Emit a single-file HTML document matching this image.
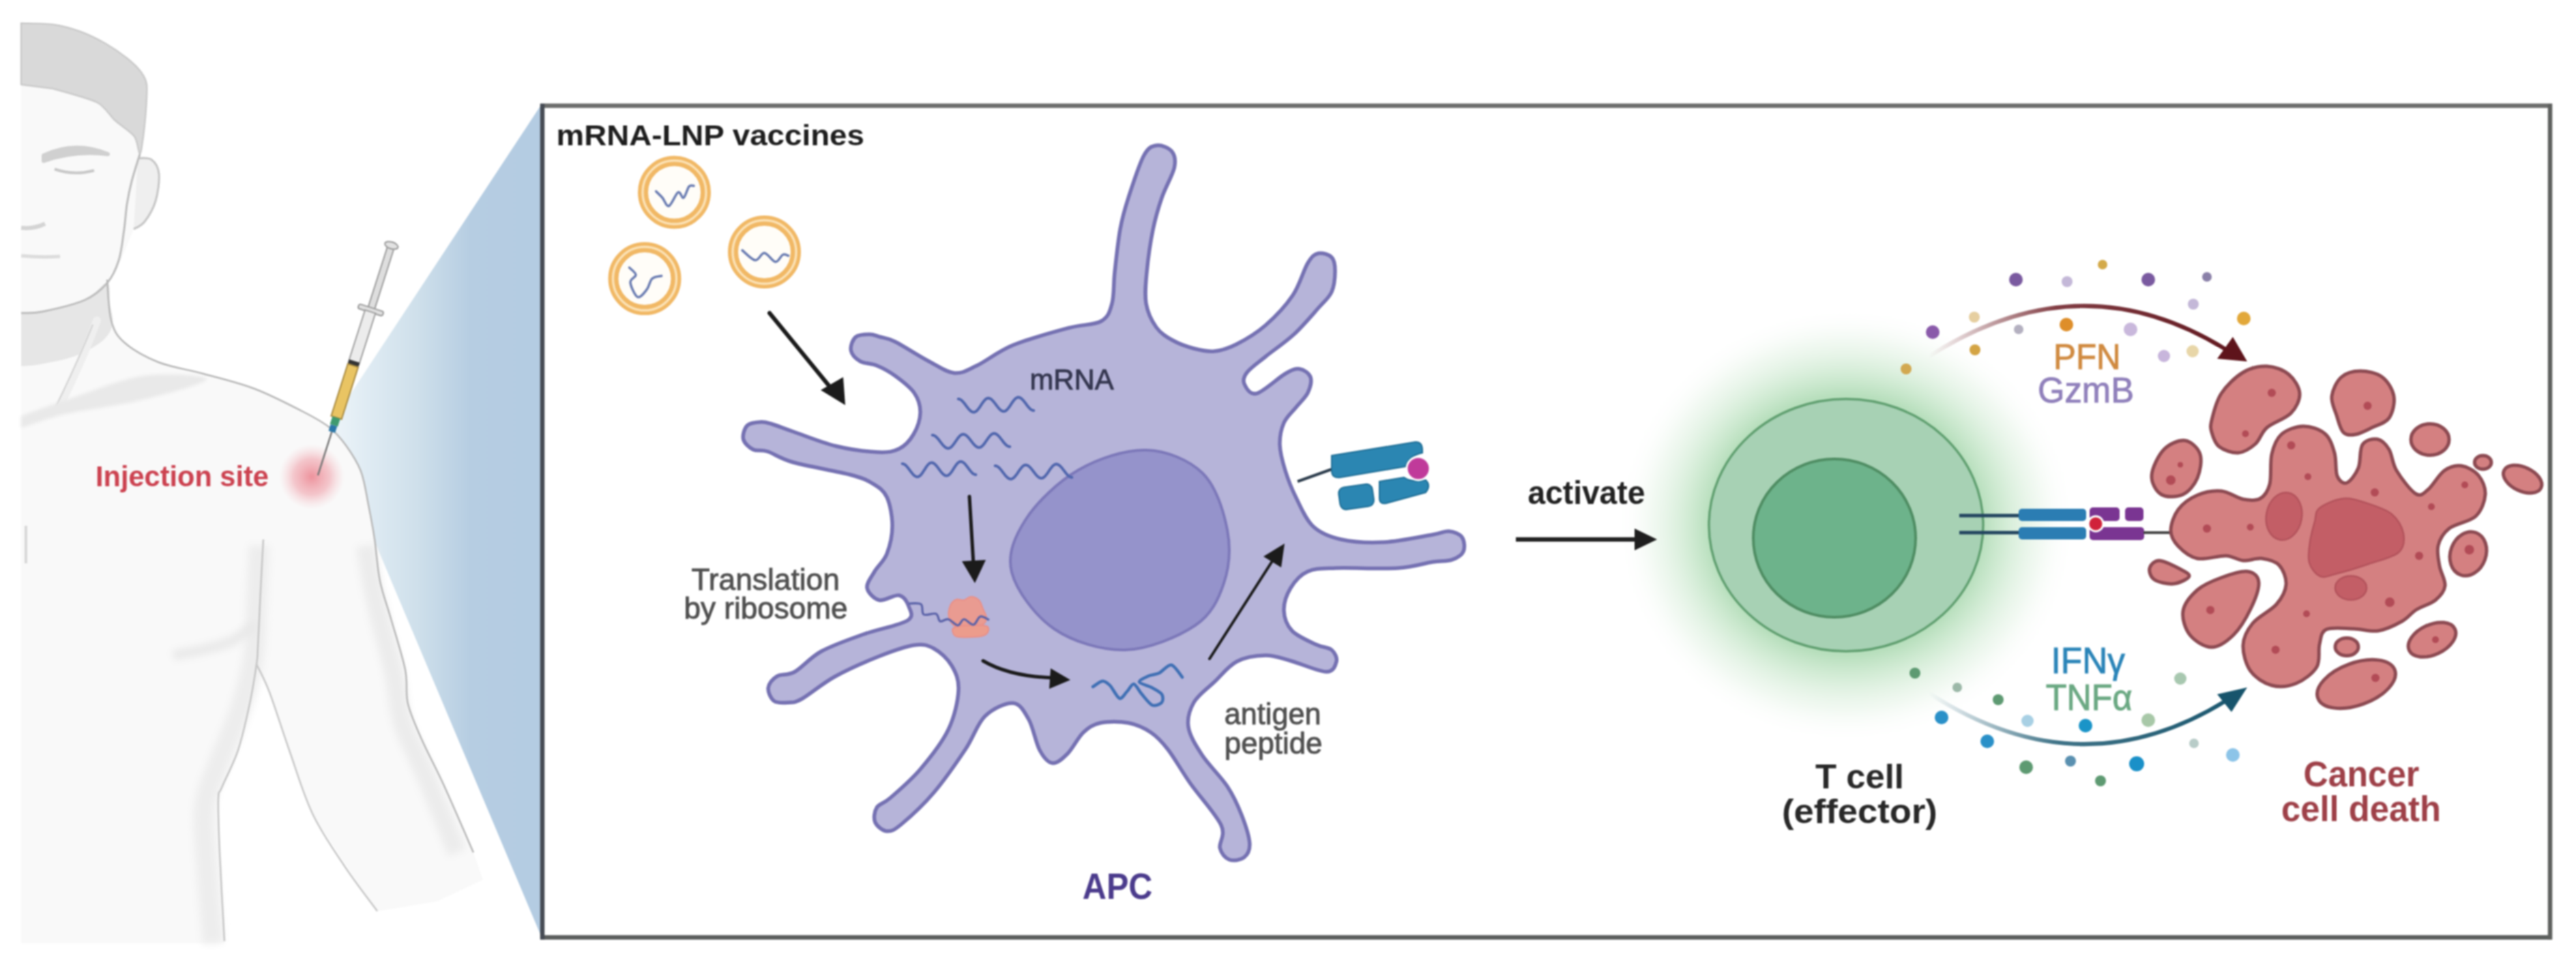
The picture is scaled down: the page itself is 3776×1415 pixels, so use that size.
<!DOCTYPE html>
<html><head><meta charset="utf-8"><style>
html,body{margin:0;padding:0;background:#ffffff;overflow:hidden;}
svg{display:block;filter:blur(1.3px);} text{font-family:"Liberation Sans",sans-serif;}
</style></head><body>
<svg width="3776" height="1415" viewBox="0 0 3776 1415">
<rect width="3776" height="1415" fill="#ffffff"/>
<defs>
<linearGradient id="wedge" x1="482" y1="0" x2="795" y2="0" gradientUnits="userSpaceOnUse">
 <stop offset="0" stop-color="#eef5f9"/>
 <stop offset="0.185" stop-color="#dfebf3"/>
 <stop offset="0.409" stop-color="#cfe0eb"/>
 <stop offset="0.665" stop-color="#b6cde2"/>
 <stop offset="1" stop-color="#b4cce2"/>
</linearGradient>
<radialGradient id="redglow" cx="0.5" cy="0.5" r="0.5">
 <stop offset="0" stop-color="#ec8792" stop-opacity="0.9"/>
 <stop offset="0.55" stop-color="#f0a3ac" stop-opacity="0.6"/>
 <stop offset="1" stop-color="#f6c8cd" stop-opacity="0"/>
</radialGradient>
<radialGradient id="greenglow" cx="0.5" cy="0.5" r="0.5">
 <stop offset="0.6" stop-color="#b8dfbd" stop-opacity="1"/>
 <stop offset="0.7" stop-color="#cce9cf" stop-opacity="0.85"/>
 <stop offset="0.85" stop-color="#e4f3e5" stop-opacity="0.5"/>
 <stop offset="1" stop-color="#ffffff" stop-opacity="0"/>
</radialGradient>
<linearGradient id="pfnarc" x1="2827" y1="0" x2="3294" y2="0" gradientUnits="userSpaceOnUse">
 <stop offset="0" stop-color="#6b1a22" stop-opacity="0"/>
 <stop offset="0.4" stop-color="#6b1a22" stop-opacity="0.85"/>
 <stop offset="1" stop-color="#5e141b"/>
</linearGradient>
<linearGradient id="ifnarc" x1="2827" y1="0" x2="3294" y2="0" gradientUnits="userSpaceOnUse">
 <stop offset="0" stop-color="#1d5a72" stop-opacity="0"/>
 <stop offset="0.4" stop-color="#1d5a72" stop-opacity="0.85"/>
 <stop offset="1" stop-color="#17546c"/>
</linearGradient>
</defs>
<path d="M482.0,626.0 L795.0,151.0 L795.0,1377.0 L480.0,630.0Z" fill="url(#wedge)"/>
<filter id="blur6" filterUnits="userSpaceOnUse" x="0" y="0" width="3776" height="1415"><feGaussianBlur stdDeviation="6"/></filter>
<filter id="blur3" filterUnits="userSpaceOnUse" x="0" y="0" width="3776" height="1415"><feGaussianBlur stdDeviation="2.5"/></filter>
<path d="M31.0,34.0 L78.0,36.0 L117.0,46.0 L155.0,64.0 L187.0,86.0 L207.0,106.0 L215.0,124.0 L214.0,160.0 L210.0,200.0 L204.0,228.0 L222.0,234.0 L233.0,255.0 L228.0,295.0 L212.0,325.0 L196.0,336.0 L178.0,380.0 L160.0,405.0 L163.0,470.0 L182.0,502.0 L232.0,531.0 L298.0,548.0 L373.0,570.0 L443.0,603.0 L482.0,626.0 L507.0,653.0 L529.0,691.0 L540.0,740.0 L549.0,790.0 L557.0,852.0 L573.0,907.0 L594.0,982.0 L598.0,1032.0 L619.0,1086.0 L650.0,1150.0 L694.0,1250.0 L708.0,1290.0 L640.0,1322.0 L553.0,1336.0 L495.0,1250.0 L458.0,1193.0 L424.0,1100.0 L395.0,1015.0 L376.0,974.0 L366.0,1032.0 L349.0,1100.0 L325.0,1155.0 L320.0,1172.0 L322.0,1250.0 L329.0,1383.0 L31.0,1383.0Z" fill="#f9f9f9"/>
<path d="M31.0,459.0 C36.2,458.7 46.5,460.2 62.0,457.0 C77.5,453.8 108.2,447.0 124.0,440.0 C139.8,433.0 150.8,414.2 157.0,415.0 C163.2,415.8 159.7,435.0 161.0,445.0 C162.3,455.0 166.8,465.8 165.0,475.0 C163.2,484.2 159.2,492.2 150.0,500.0 C140.8,507.8 125.0,516.3 110.0,522.0 C95.0,527.7 73.2,531.5 60.0,534.0 C46.8,536.5 35.8,536.5 31.0,537.0Z" fill="#e6e6e6"/>
<path d="M142,470 Q120,530 86,598" stroke="#efefef" stroke-width="12" fill="none" stroke-linecap="round"/>
<path d="M136,476 Q112,535 80,600" stroke="#d2d2d2" stroke-width="2" fill="none"/>
<path d="M31.0,610.0 C41.3,606.3 63.2,597.8 93.0,588.0 C122.8,578.2 175.0,556.3 210.0,551.0 C245.0,545.7 303.0,550.2 303.0,556.0 C303.0,561.8 245.0,577.3 210.0,586.0 C175.0,594.7 122.8,601.0 93.0,608.0 C63.2,615.0 41.3,624.7 31.0,628.0Z" fill="#e9e9e9" filter="url(#blur3)"/>
<path d="M380.0,800.0 C379.3,813.3 377.3,853.3 376.0,880.0 C374.7,906.7 376.0,933.3 372.0,960.0 C368.0,986.7 360.7,1013.3 352.0,1040.0 C343.3,1066.7 328.7,1096.7 320.0,1120.0 C311.3,1143.3 303.0,1156.7 300.0,1180.0 C297.0,1203.3 300.0,1226.2 302.0,1260.0 C304.0,1293.8 310.3,1362.5 312.0,1383.0" fill="none" stroke="#ededed" stroke-width="30" filter="url(#blur6)"/>
<path d="M536.0,800.0 C537.7,810.0 542.0,840.0 546.0,860.0 C550.0,880.0 554.7,898.3 560.0,920.0 C565.3,941.7 573.0,966.7 578.0,990.0 C583.0,1013.3 582.2,1035.0 590.0,1060.0 C597.8,1085.0 611.7,1108.3 625.0,1140.0 C638.3,1171.7 662.5,1231.7 670.0,1250.0" fill="none" stroke="#ececec" stroke-width="28" filter="url(#blur6)"/>
<path d="M254.0,961.0 C261.7,959.5 285.7,955.5 300.0,952.0 C314.3,948.5 327.7,946.0 340.0,940.0 C352.3,934.0 368.3,920.0 374.0,916.0" fill="none" stroke="#e8e8e8" stroke-width="14" filter="url(#blur6)"/>
<path d="M31,124 L31,34  C37.3,34.3 66.5,34.4 78.0,36.0 C89.5,37.6 106.7,42.3 117.0,46.0 C127.3,49.7 145.7,58.7 155.0,64.0 C164.3,69.3 180.1,80.4 187.0,86.0 C193.9,91.6 203.3,100.9 207.0,106.0 C210.7,111.1 214.1,116.8 215.0,124.0 C215.9,131.2 214.7,149.9 214.0,160.0 C213.3,170.1 211.2,191.2 210.0,200.0 C208.8,208.8 206.7,226.0 205.0,226.0 C203.3,226.0 201.9,206.7 197.0,200.0 C192.1,193.3 175.3,182.7 168.0,176.0 C160.7,169.3 154.0,156.1 142.0,150.0 C130.0,143.9 86.5,132.7 78.0,130.0 L31,124Z" fill="#d9d9d9" stroke="#cbcbcb" stroke-width="2.5" stroke-linejoin="round"/>
<path d="M202.0,232.0 C205.3,232.3 216.8,230.2 222.0,234.0 C227.2,237.8 232.0,244.8 233.0,255.0 C234.0,265.2 231.5,283.3 228.0,295.0 C224.5,306.7 217.3,318.2 212.0,325.0 C206.7,331.8 198.7,334.2 196.0,336.0" fill="#efefef" stroke="#c6c6c6" stroke-width="3"/>
<path d="M205.0,226.0 C203.0,232.7 196.2,253.7 193.0,266.0 C189.8,278.3 187.8,288.3 186.0,300.0 C184.2,311.7 184.0,322.3 182.0,336.0 C180.0,349.7 178.2,368.8 174.0,382.0 C169.8,395.2 165.3,405.3 157.0,415.0 C148.7,424.7 139.8,433.0 124.0,440.0 C108.2,447.0 77.5,453.8 62.0,457.0 C46.5,460.2 36.2,458.7 31.0,459.0" fill="none" stroke="#bdbdbd" stroke-width="3"/>
<path d="M157.0,410.0 C158.0,420.0 158.8,454.7 163.0,470.0 C167.2,485.3 170.5,491.8 182.0,502.0 C193.5,512.2 212.7,523.3 232.0,531.0 C251.3,538.7 274.5,541.5 298.0,548.0 C321.5,554.5 348.8,560.8 373.0,570.0 C397.2,579.2 424.8,593.7 443.0,603.0 C461.2,612.3 471.3,617.7 482.0,626.0 C492.7,634.3 499.2,642.2 507.0,653.0 C514.8,663.8 523.5,676.5 529.0,691.0 C534.5,705.5 536.7,723.5 540.0,740.0 C543.3,756.5 546.2,771.3 549.0,790.0 C551.8,808.7 553.0,832.5 557.0,852.0 C561.0,871.5 566.8,885.3 573.0,907.0 C579.2,928.7 589.8,961.2 594.0,982.0 C598.2,1002.8 593.8,1014.7 598.0,1032.0 C602.2,1049.3 610.3,1066.3 619.0,1086.0 C627.7,1105.7 637.5,1122.7 650.0,1150.0 C662.5,1177.3 686.7,1233.3 694.0,1250.0" fill="none" stroke="#b8b8b8" stroke-width="2.5"/>
<path d="M64,228 Q110,206 158,226 Q110,220 64,236Z" fill="#d0d0d0" stroke="#d0d0d0" stroke-width="6" stroke-linejoin="round"/>
<path d="M80,248 Q108,258 138,250" fill="none" stroke="#c8c8c8" stroke-width="4"/>
<path d="M31,334 Q50,336 66,328" fill="none" stroke="#d4d4d4" stroke-width="6"/>
<path d="M31,375 Q60,378 88,376" fill="none" stroke="#dcdcdc" stroke-width="5"/>
<path d="M386.0,791.0 C385.3,803.5 383.3,839.7 382.0,866.0 C380.7,892.3 379.0,931.0 378.0,949.0 C377.0,967.0 378.0,960.2 376.0,974.0 C374.0,987.8 370.5,1011.0 366.0,1032.0 C361.5,1053.0 355.8,1079.5 349.0,1100.0 C342.2,1120.5 329.8,1143.0 325.0,1155.0 C320.2,1167.0 320.5,1156.2 320.0,1172.0 C319.5,1187.8 320.5,1215.3 322.0,1250.0 C323.5,1284.7 327.8,1358.3 329.0,1380.0" fill="none" stroke="#c6c6c6" stroke-width="2.5"/>
<path d="M376.0,974.0 C379.2,980.8 387.0,994.0 395.0,1015.0 C403.0,1036.0 413.5,1070.3 424.0,1100.0 C434.5,1129.7 444.5,1164.7 458.0,1193.0 C471.5,1221.3 489.2,1246.2 505.0,1270.0 C520.8,1293.8 545.0,1325.0 553.0,1336.0" fill="none" stroke="#c8c8c8" stroke-width="2.5"/>
<path d="M38,771 L38,826" stroke="#d8d8d8" stroke-width="4"/>
<circle cx="457" cy="699" r="48" fill="url(#redglow)"/>
<g transform="translate(575,356) rotate(17.73)">
 <line x1="0" y1="290" x2="0" y2="358" stroke="#777" stroke-width="2.5"/>
 <rect x="-5" y="6" width="10" height="96" fill="#dedede" stroke="#9c9c9c" stroke-width="2"/>
 <ellipse cx="0" cy="4" rx="10" ry="5" fill="#e2e2e2" stroke="#9c9c9c" stroke-width="2"/>
 <rect x="-19" y="100" width="38" height="7" rx="3" fill="#e0e0e0" stroke="#9c9c9c" stroke-width="2"/>
 <rect x="-8" y="106" width="16" height="80" fill="#ececec" stroke="#a0a0a0" stroke-width="2"/>
 <rect x="-8" y="182" width="16" height="7" fill="#333"/>
 <rect x="-8" y="189" width="16" height="80" fill="#e9c463" stroke="#a88a40" stroke-width="2"/>
 <rect x="-6" y="269" width="12" height="12" fill="#3f9a6f"/>
 <rect x="-5" y="281" width="10" height="10" fill="#2b77a8"/>
</g>
<rect x="795" y="155" width="2943" height="1219.5" fill="#ffffff"/>
<path d="M792,155 L3741,155" stroke="#6c6d6c" stroke-width="6.5"/>
<path d="M792,1374.5 L3741,1374.5" stroke="#5a5d5c" stroke-width="6.5"/>
<path d="M795,152 L795,1377.5" stroke="#464b54" stroke-width="6.5"/>
<path d="M3738,152 L3738,1377.5" stroke="#5f615f" stroke-width="6.5"/>
<circle cx="988.5" cy="282" r="46" fill="#fffdf8" stroke="#f1b865" stroke-width="15"/><circle cx="988.5" cy="282" r="46.5" fill="none" stroke="#fbe2b6" stroke-width="3.5"/><path d="M961.6,280.6 C963.2,282.2 967.9,286.4 971.0,290.0 C974.1,293.6 976.7,303.3 980.5,302.0 C984.3,300.7 990.4,284.0 994.0,282.0 C997.6,280.0 999.3,291.4 1002.0,290.0 C1004.7,288.6 1007.5,276.4 1010.0,273.5 C1012.5,270.6 1015.8,272.7 1017.0,272.5" fill="none" stroke="#6b7db2" stroke-width="3.5" stroke-linecap="round" stroke-linejoin="round"/>
<circle cx="945" cy="408.6" r="46" fill="#fffdf8" stroke="#f1b865" stroke-width="15"/><circle cx="945" cy="408.6" r="46.5" fill="none" stroke="#fbe2b6" stroke-width="3.5"/><path d="M922.5,392.4 C924.1,394.2 931.8,399.4 932.0,403.0 C932.2,406.6 923.6,408.6 924.0,414.0 C924.4,419.4 930.6,433.7 934.6,435.5 C938.6,437.3 944.4,429.2 948.0,424.7 C951.6,420.2 952.4,412.0 956.0,408.6 C959.6,405.2 967.4,405.2 969.7,404.5" fill="none" stroke="#6b7db2" stroke-width="3.5" stroke-linecap="round" stroke-linejoin="round"/>
<circle cx="1120.5" cy="369.5" r="46" fill="#fffdf8" stroke="#f1b865" stroke-width="15"/><circle cx="1120.5" cy="369.5" r="46.5" fill="none" stroke="#fbe2b6" stroke-width="3.5"/><path d="M1088.0,367.0 C1091.2,369.4 1101.6,380.9 1107.0,381.6 C1112.4,382.3 1115.5,370.6 1120.5,371.0 C1125.5,371.4 1132.2,383.6 1136.7,384.0 C1141.2,384.4 1144.3,375.0 1147.5,373.5 C1150.7,372.0 1154.2,374.8 1155.6,375.0" fill="none" stroke="#6b7db2" stroke-width="3.5" stroke-linecap="round" stroke-linejoin="round"/>
<path d="M1128,459 L1222,574" stroke="#1b1b1b" stroke-width="6" stroke-linecap="round"/>
<path d="M1239,594 L1203,572 L1236,553Z" fill="#1b1b1b"/>
<path d="M1630.0,445.0 C1633.3,433.0 1632.0,417.2 1634.0,399.0 C1636.0,380.8 1638.7,354.2 1642.0,336.0 C1645.3,317.8 1648.2,307.9 1654.0,290.0 C1659.8,272.1 1669.7,241.1 1676.6,228.3 C1683.5,215.5 1688.5,214.3 1695.3,213.3 C1702.2,212.2 1713.4,216.6 1717.7,222.0 C1722.0,227.4 1723.8,234.4 1721.4,245.7 C1718.9,257.0 1708.2,274.8 1703.0,290.0 C1697.8,305.2 1693.7,318.8 1690.0,337.0 C1686.3,355.2 1682.7,381.0 1681.0,399.0 C1679.3,417.0 1677.7,431.5 1680.0,445.0 C1682.3,458.5 1688.5,471.0 1695.0,480.0 C1701.5,489.0 1709.8,493.8 1719.0,499.0 C1728.2,504.2 1739.8,508.3 1750.0,511.0 C1760.2,513.7 1769.7,516.0 1780.0,515.0 C1790.3,514.0 1799.5,511.3 1812.0,505.0 C1824.5,498.7 1841.2,489.0 1855.0,477.0 C1868.8,465.0 1884.7,448.2 1895.0,433.0 C1905.3,417.8 1910.7,395.9 1917.0,385.7 C1923.2,375.4 1926.5,372.8 1932.5,371.5 C1938.4,370.2 1948.4,373.3 1952.5,377.8 C1956.6,382.3 1957.1,390.0 1957.0,398.3 C1956.9,406.7 1955.8,419.4 1952.0,428.0 C1948.2,436.6 1943.2,439.7 1934.0,450.0 C1924.8,460.3 1910.2,477.8 1897.0,490.0 C1883.8,502.2 1866.5,513.7 1855.0,523.0 C1843.5,532.3 1833.2,539.3 1828.0,546.0 C1822.8,552.7 1821.7,557.8 1824.0,563.0 C1826.3,568.2 1832.0,579.5 1842.0,577.0 C1852.0,574.5 1873.5,554.0 1884.0,548.0 C1894.5,542.0 1898.8,540.2 1905.0,541.0 C1911.2,541.8 1919.0,547.2 1921.0,553.0 C1923.0,558.8 1920.5,568.7 1917.0,576.0 C1913.5,583.3 1905.8,589.7 1900.0,597.0 C1894.2,604.3 1886.0,610.8 1882.0,620.0 C1878.0,629.2 1875.7,640.3 1876.0,652.0 C1876.3,663.7 1880.0,677.0 1884.0,690.0 C1888.0,703.0 1893.2,716.3 1900.0,730.0 C1906.8,743.7 1914.0,761.8 1925.0,772.0 C1936.0,782.2 1948.7,787.2 1966.0,791.0 C1983.3,794.8 2006.7,796.2 2029.0,795.0 C2051.3,793.8 2084.2,786.6 2100.0,784.0 C2115.8,781.4 2116.7,778.5 2123.9,779.1 C2131.1,779.7 2139.5,782.8 2143.0,787.7 C2146.6,792.6 2147.6,803.1 2145.1,808.6 C2142.7,814.1 2135.6,818.3 2128.1,820.9 C2120.6,823.5 2113.2,822.0 2100.0,824.0 C2086.8,826.0 2072.7,831.5 2049.0,833.0 C2025.3,834.5 1980.0,832.2 1958.0,833.0 C1936.0,833.8 1928.0,833.2 1917.0,838.0 C1906.0,842.8 1897.8,852.5 1892.0,862.0 C1886.2,871.5 1881.7,884.5 1882.0,895.0 C1882.3,905.5 1886.2,916.7 1894.0,925.0 C1901.8,933.3 1919.3,940.3 1929.0,945.0 C1938.7,949.7 1947.0,948.8 1952.0,953.0 C1957.0,957.2 1960.3,964.7 1959.0,970.0 C1957.7,975.3 1955.2,985.2 1944.0,985.0 C1932.8,984.8 1906.8,973.0 1892.0,969.0 C1877.2,965.0 1868.2,960.8 1855.0,961.0 C1841.8,961.2 1825.5,963.5 1813.0,970.0 C1800.5,976.5 1790.5,990.0 1780.0,1000.0 C1769.5,1010.0 1756.3,1019.0 1750.0,1030.0 C1743.7,1041.0 1740.0,1053.2 1742.0,1066.0 C1744.0,1078.8 1752.5,1092.5 1762.0,1107.0 C1771.5,1121.5 1789.3,1138.3 1799.0,1153.0 C1808.7,1167.7 1814.5,1181.0 1820.0,1195.0 C1825.5,1209.0 1831.1,1226.4 1831.8,1236.7 C1832.4,1247.1 1828.7,1253.3 1823.7,1257.2 C1818.7,1261.2 1807.9,1262.8 1801.9,1260.5 C1796.0,1258.1 1790.2,1251.7 1788.2,1243.3 C1786.3,1234.9 1797.2,1225.7 1790.0,1210.0 C1782.8,1194.3 1758.0,1167.5 1745.0,1149.0 C1732.0,1130.5 1721.7,1111.5 1712.0,1099.0 C1702.3,1086.5 1696.7,1080.5 1687.0,1074.0 C1677.3,1067.5 1666.3,1062.3 1654.0,1060.0 C1641.7,1057.7 1624.0,1057.7 1613.0,1060.0 C1602.0,1062.3 1596.0,1066.5 1588.0,1074.0 C1580.0,1081.5 1572.5,1097.5 1565.0,1105.0 C1557.5,1112.5 1549.8,1119.8 1543.0,1119.0 C1536.2,1118.2 1529.8,1110.7 1524.0,1100.0 C1518.2,1089.3 1514.5,1066.5 1508.0,1055.0 C1501.5,1043.5 1495.7,1031.8 1485.0,1031.0 C1474.3,1030.2 1455.7,1038.7 1444.0,1050.0 C1432.3,1061.3 1427.5,1080.3 1415.0,1099.0 C1402.5,1117.7 1384.5,1143.8 1369.0,1162.0 C1353.5,1180.2 1333.4,1198.5 1322.0,1208.0 C1310.6,1217.5 1306.9,1219.2 1300.4,1218.8 C1293.8,1218.4 1285.3,1211.5 1282.8,1205.6 C1280.3,1199.8 1281.7,1189.7 1285.4,1183.8 C1289.1,1177.9 1294.4,1179.3 1305.0,1170.0 C1315.6,1160.7 1334.8,1144.7 1349.0,1128.0 C1363.2,1111.3 1380.7,1089.3 1390.0,1070.0 C1399.3,1050.7 1404.2,1027.7 1405.0,1012.0 C1405.8,996.3 1401.0,986.2 1395.0,976.0 C1389.0,965.8 1378.2,956.0 1369.0,951.0 C1359.8,946.0 1353.7,944.0 1340.0,946.0 C1326.3,948.0 1306.3,955.3 1287.0,963.0 C1267.7,970.7 1242.7,981.7 1224.0,992.0 C1205.3,1002.3 1186.4,1018.6 1175.0,1025.0 C1163.6,1031.4 1162.2,1029.7 1155.4,1030.2 C1148.7,1030.7 1139.5,1031.5 1134.6,1027.9 C1129.7,1024.3 1125.5,1014.7 1126.1,1008.7 C1126.8,1002.7 1132.1,995.7 1138.6,991.8 C1145.0,987.8 1154.1,991.1 1165.0,985.0 C1175.9,978.9 1187.2,964.2 1204.0,955.0 C1220.8,945.8 1245.0,937.5 1266.0,930.0 C1287.0,922.5 1319.0,916.8 1330.0,910.0 C1341.0,903.2 1334.0,895.2 1332.0,889.0 C1330.0,882.8 1325.2,874.5 1318.0,873.0 C1310.8,871.5 1296.8,881.8 1289.0,880.0 C1281.2,878.2 1272.2,869.0 1271.0,862.0 C1269.8,855.0 1277.2,846.3 1282.0,838.0 C1286.8,829.7 1295.7,823.2 1300.0,812.0 C1304.3,800.8 1308.0,784.8 1308.0,771.0 C1308.0,757.2 1304.8,739.3 1300.0,729.0 C1295.2,718.7 1288.0,714.5 1279.0,709.0 C1270.0,703.5 1265.3,701.2 1246.0,696.0 C1226.7,690.8 1183.2,683.7 1163.0,678.0 C1142.8,672.3 1134.8,665.1 1125.0,662.0 C1115.2,658.9 1110.0,662.2 1104.1,659.2 C1098.2,656.2 1091.0,649.9 1089.6,644.0 C1088.2,638.1 1091.1,628.0 1095.5,623.8 C1099.9,619.6 1109.8,619.1 1115.9,618.8 C1122.0,618.5 1124.1,619.6 1132.0,622.0 C1139.9,624.4 1147.5,627.7 1163.0,633.0 C1178.5,638.3 1204.3,649.0 1225.0,654.0 C1245.7,659.0 1271.5,662.3 1287.0,663.0 C1302.5,663.7 1309.3,662.3 1318.0,658.0 C1326.7,653.7 1333.8,645.8 1339.0,637.0 C1344.2,628.2 1348.8,615.2 1349.0,605.0 C1349.2,594.8 1346.2,585.0 1340.0,576.0 C1333.8,567.0 1321.2,557.7 1312.0,551.0 C1302.8,544.3 1293.5,539.5 1285.0,536.0 C1276.5,532.5 1267.3,533.5 1261.0,529.8 C1254.8,526.1 1248.5,519.8 1247.4,513.9 C1246.2,507.9 1249.7,498.0 1254.3,494.1 C1258.9,490.1 1269.0,490.2 1275.0,490.2 C1280.9,490.2 1283.8,492.2 1290.0,494.0 C1296.2,495.8 1300.0,495.0 1312.0,501.0 C1324.0,507.0 1347.5,522.3 1362.0,530.0 C1376.5,537.7 1387.3,546.0 1399.0,547.0 C1410.7,548.0 1417.7,542.8 1432.0,536.0 C1446.3,529.2 1462.7,515.2 1485.0,506.0 C1507.3,496.8 1544.5,486.8 1566.0,481.0 C1587.5,475.2 1603.3,477.0 1614.0,471.0 C1624.7,465.0 1626.7,457.0 1630.0,445.0Z" fill="#b6b4d9" stroke="#7571b2" stroke-width="5.5" stroke-linejoin="round"/>
<path d="M1680.0,660.0 C1710.3,660.8 1743.2,674.5 1763.0,694.0 C1782.8,713.5 1793.8,750.2 1799.0,777.0 C1804.2,803.8 1801.8,831.7 1794.0,855.0 C1786.2,878.3 1776.2,900.7 1752.0,917.0 C1727.8,933.3 1683.5,952.2 1649.0,953.0 C1614.5,953.8 1572.7,941.0 1545.0,922.0 C1517.3,903.0 1489.8,865.8 1483.0,839.0 C1476.2,812.2 1487.7,786.0 1504.0,761.0 C1520.3,736.0 1551.7,705.8 1581.0,689.0 C1610.3,672.2 1649.7,659.2 1680.0,660.0Z" fill="#9593cb" stroke="#7c78b9" stroke-width="4"/>
<path d="M1404.7,585.0 L1406.1,585.2 L1407.5,585.7 L1408.9,586.6 L1410.3,587.8 L1411.7,589.3 L1413.1,590.9 L1414.6,592.8 L1416.0,594.7 L1417.4,596.6 L1418.9,598.5 L1420.3,600.1 L1421.7,601.6 L1423.1,602.8 L1424.5,603.7 L1425.9,604.2 L1427.3,604.4 L1428.6,604.2 L1430.0,603.6 L1431.4,602.6 L1432.7,601.3 L1434.0,599.8 L1435.4,598.0 L1436.7,596.1 L1438.0,594.1 L1439.3,592.1 L1440.6,590.2 L1442.0,588.4 L1443.3,586.9 L1444.6,585.6 L1446.0,584.6 L1447.4,584.0 L1448.7,583.8 L1450.1,584.0 L1451.5,584.5 L1452.9,585.4 L1454.3,586.6 L1455.7,588.1 L1457.1,589.7 L1458.6,591.6 L1460.0,593.5 L1461.4,595.4 L1462.9,597.3 L1464.3,598.9 L1465.7,600.4 L1467.1,601.6 L1468.5,602.5 L1469.9,603.0 L1471.3,603.2 L1472.6,603.0 L1474.0,602.4 L1475.4,601.4 L1476.7,600.1 L1478.0,598.6 L1479.4,596.8 L1480.7,594.9 L1482.0,592.9 L1483.3,590.9 L1484.6,589.0 L1486.0,587.2 L1487.3,585.7 L1488.6,584.4 L1490.0,583.4 L1491.4,582.8 L1492.7,582.6 L1494.1,582.8 L1495.5,583.3 L1496.9,584.2 L1498.3,585.4 L1499.7,586.9 L1501.1,588.5 L1502.6,590.4 L1504.0,592.3 L1505.4,594.2 L1506.9,596.1 L1508.3,597.7 L1509.7,599.2 L1511.1,600.4 L1512.5,601.3 L1513.9,601.8 L1515.3,602.0" fill="none" stroke="#5066ad" stroke-width="4" stroke-linecap="round"/>
<path d="M1366.7,638.0 L1368.2,638.2 L1369.6,638.7 L1371.0,639.6 L1372.5,640.8 L1373.9,642.3 L1375.4,643.9 L1376.8,645.8 L1378.3,647.7 L1379.8,649.6 L1381.2,651.5 L1382.7,653.1 L1384.1,654.6 L1385.6,655.8 L1387.0,656.7 L1388.4,657.2 L1389.9,657.4 L1391.3,657.2 L1392.7,656.6 L1394.1,655.6 L1395.4,654.3 L1396.8,652.8 L1398.2,651.0 L1399.5,649.1 L1400.9,647.1 L1402.3,645.1 L1403.6,643.2 L1405.0,641.4 L1406.4,639.9 L1407.7,638.6 L1409.1,637.6 L1410.5,637.0 L1411.9,636.8 L1413.4,637.0 L1414.8,637.5 L1416.2,638.4 L1417.7,639.6 L1419.1,641.1 L1420.6,642.7 L1422.0,644.6 L1423.5,646.5 L1425.0,648.4 L1426.4,650.3 L1427.9,651.9 L1429.3,653.4 L1430.8,654.6 L1432.2,655.5 L1433.6,656.0 L1435.1,656.2 L1436.5,656.0 L1437.9,655.4 L1439.3,654.4 L1440.6,653.1 L1442.0,651.6 L1443.4,649.8 L1444.7,647.9 L1446.1,645.9 L1447.5,643.9 L1448.8,642.0 L1450.2,640.2 L1451.6,638.7 L1452.9,637.4 L1454.3,636.4 L1455.7,635.8 L1457.1,635.6 L1458.6,635.8 L1460.0,636.3 L1461.4,637.2 L1462.9,638.4 L1464.3,639.9 L1465.8,641.5 L1467.2,643.4 L1468.7,645.3 L1470.2,647.2 L1471.6,649.1 L1473.1,650.7 L1474.5,652.2 L1476.0,653.4 L1477.4,654.3 L1478.8,654.8 L1480.3,655.0" fill="none" stroke="#5066ad" stroke-width="4" stroke-linecap="round"/>
<path d="M1322.6,680.0 L1324.0,680.1 L1325.3,680.7 L1326.7,681.5 L1328.1,682.7 L1329.5,684.2 L1330.9,685.9 L1332.3,687.7 L1333.7,689.6 L1335.1,691.5 L1336.5,693.3 L1337.9,695.0 L1339.3,696.5 L1340.7,697.7 L1342.1,698.5 L1343.4,699.1 L1344.8,699.2 L1346.1,699.0 L1347.4,698.3 L1348.7,697.4 L1350.0,696.1 L1351.3,694.5 L1352.6,692.7 L1353.8,690.8 L1355.1,688.8 L1356.4,686.8 L1357.6,684.9 L1358.9,683.1 L1360.2,681.5 L1361.5,680.2 L1362.8,679.3 L1364.1,678.6 L1365.4,678.4 L1366.8,678.5 L1368.1,679.1 L1369.5,679.9 L1370.9,681.1 L1372.3,682.6 L1373.7,684.3 L1375.1,686.1 L1376.5,688.0 L1377.9,689.9 L1379.3,691.7 L1380.7,693.4 L1382.1,694.9 L1383.5,696.1 L1384.9,696.9 L1386.2,697.5 L1387.6,697.6 L1388.9,697.4 L1390.2,696.7 L1391.5,695.8 L1392.8,694.5 L1394.1,692.9 L1395.4,691.1 L1396.6,689.2 L1397.9,687.2 L1399.2,685.2 L1400.4,683.3 L1401.7,681.5 L1403.0,679.9 L1404.3,678.6 L1405.6,677.7 L1406.9,677.0 L1408.2,676.8 L1409.6,676.9 L1410.9,677.5 L1412.3,678.3 L1413.7,679.5 L1415.1,681.0 L1416.5,682.7 L1417.9,684.5 L1419.3,686.4 L1420.7,688.3 L1422.1,690.1 L1423.5,691.8 L1424.9,693.3 L1426.3,694.5 L1427.7,695.3 L1429.0,695.9 L1430.4,696.0" fill="none" stroke="#5066ad" stroke-width="4" stroke-linecap="round"/>
<path d="M1458.7,683.0 L1460.1,683.2 L1461.6,683.7 L1463.0,684.6 L1464.4,685.8 L1465.9,687.3 L1467.3,688.9 L1468.7,690.8 L1470.2,692.7 L1471.7,694.6 L1473.1,696.5 L1474.5,698.1 L1476.0,699.6 L1477.4,700.8 L1478.8,701.7 L1480.3,702.2 L1481.7,702.4 L1483.1,702.2 L1484.4,701.6 L1485.8,700.6 L1487.2,699.3 L1488.5,697.8 L1489.9,696.0 L1491.3,694.1 L1492.6,692.1 L1493.9,690.1 L1495.3,688.2 L1496.7,686.4 L1498.0,684.9 L1499.4,683.6 L1500.8,682.6 L1502.1,682.0 L1503.5,681.8 L1504.9,682.0 L1506.4,682.5 L1507.8,683.4 L1509.2,684.6 L1510.7,686.1 L1512.1,687.7 L1513.5,689.6 L1515.0,691.5 L1516.5,693.4 L1517.9,695.3 L1519.3,696.9 L1520.8,698.4 L1522.2,699.6 L1523.6,700.5 L1525.1,701.0 L1526.5,701.2 L1527.9,701.0 L1529.2,700.4 L1530.6,699.4 L1532.0,698.1 L1533.3,696.6 L1534.7,694.8 L1536.1,692.9 L1537.4,690.9 L1538.7,688.9 L1540.1,687.0 L1541.5,685.2 L1542.8,683.7 L1544.2,682.4 L1545.6,681.4 L1546.9,680.8 L1548.3,680.6 L1549.7,680.8 L1551.2,681.3 L1552.6,682.2 L1554.0,683.4 L1555.5,684.9 L1556.9,686.5 L1558.3,688.4 L1559.8,690.3 L1561.3,692.2 L1562.7,694.1 L1564.1,695.7 L1565.6,697.2 L1567.0,698.4 L1568.4,699.3 L1569.9,699.8 L1571.3,700.0" fill="none" stroke="#5066ad" stroke-width="4" stroke-linecap="round"/>
<path d="M1421,728 L1427,828" stroke="#1b1b1b" stroke-width="5" stroke-linecap="round"/>
<path d="M1429,855 L1410,823 L1445,821Z" fill="#1b1b1b"/>
<path d="M1441,969 Q1480,992 1545,994" stroke="#1b1b1b" stroke-width="5" fill="none" stroke-linecap="round"/>
<path d="M1569,997 L1538,1010 L1540,980Z" fill="#1b1b1b"/>
<path d="M1773,966 L1868,818" stroke="#1b1b1b" stroke-width="4" stroke-linecap="round"/>
<path d="M1883,797 L1852,816 L1878,832Z" fill="#1b1b1b"/>
<path d="M1391.0,905.0 C1389.8,900.0 1391.2,892.3 1393.0,888.0 C1394.8,883.7 1398.7,880.3 1402.0,879.0 C1405.3,877.7 1409.5,880.7 1413.0,880.0 C1416.5,879.3 1419.3,875.0 1423.0,875.0 C1426.7,875.0 1432.0,877.0 1435.0,880.0 C1438.0,883.0 1439.2,888.7 1441.0,893.0 C1442.8,897.3 1446.2,902.2 1446.0,906.0 C1445.8,909.8 1444.3,914.0 1440.0,916.0 C1435.7,918.0 1426.7,917.7 1420.0,918.0 C1413.3,918.3 1404.8,920.2 1400.0,918.0 C1395.2,915.8 1392.2,910.0 1391.0,905.0Z" fill="#e99b91" stroke="#ea9088" stroke-width="2"/>
<path d="M1399.0,920.0 C1402.8,918.2 1412.2,917.3 1420.0,917.0 C1427.8,916.7 1441.3,916.3 1446.0,918.0 C1450.7,919.7 1449.3,924.5 1448.0,927.0 C1446.7,929.5 1445.2,931.8 1438.0,933.0 C1430.8,934.2 1411.8,934.8 1405.0,934.0 C1398.2,933.2 1398.0,930.3 1397.0,928.0 C1396.0,925.7 1395.2,921.8 1399.0,920.0Z" fill="#ec9c8c" stroke="#ea9088" stroke-width="2"/>
<path d="M1332.0,885.0 C1335.0,885.2 1346.3,883.3 1350.0,886.0 C1353.7,888.7 1350.3,898.7 1354.0,901.0 C1357.7,903.3 1368.0,898.3 1372.0,900.0 C1376.0,901.7 1375.0,909.7 1378.0,911.0 C1381.0,912.3 1385.7,907.0 1390.0,908.0 C1394.3,909.0 1400.2,917.0 1404.0,917.0 C1407.8,917.0 1409.2,908.2 1413.0,908.0 C1416.8,907.8 1423.0,916.7 1427.0,916.0 C1431.0,915.3 1433.2,905.2 1437.0,904.0 C1440.8,902.8 1447.8,908.2 1450.0,909.0" fill="none" stroke="#5a62a8" stroke-width="3.2" stroke-linejoin="round"/>
<path d="M1602.0,1007.0 C1604.1,1005.8 1612.2,999.0 1616.0,998.7 C1619.8,998.4 1623.2,1001.2 1627.0,1005.0 C1630.8,1008.8 1637.2,1022.6 1641.0,1024.0 C1644.8,1025.3 1648.8,1017.1 1652.0,1014.0 C1655.2,1010.9 1658.8,1002.5 1662.0,1003.0 C1665.2,1003.5 1669.0,1012.4 1673.0,1017.0 C1677.0,1021.6 1684.5,1032.0 1689.0,1034.0 C1693.5,1036.0 1700.9,1032.4 1703.0,1030.0 C1705.1,1027.6 1705.2,1021.3 1703.0,1018.0 C1700.8,1014.7 1693.0,1010.7 1688.0,1008.0 C1683.0,1005.3 1670.6,1002.5 1670.0,1000.0 C1669.4,997.5 1679.7,993.0 1684.0,991.0 C1688.3,989.0 1694.0,989.4 1699.0,987.0 C1704.0,984.6 1711.9,974.1 1717.0,975.0 C1722.1,975.9 1730.6,990.3 1733.0,993.0" fill="none" stroke="#3f6fb4" stroke-width="4.5" stroke-linecap="round"/>
<path d="M1902,706 L1955,687" stroke="#2b3b4b" stroke-width="4"/>
<path d="M1952,668 L2075,648 Q2085,648 2085,660 L2085,664 Q2065,668 2060,684 L1965,700 Q1952,702 1952,690Z" fill="#2b86b2" stroke="#1f6e96" stroke-width="2"/>
<rect x="1963" y="712" width="50" height="33" rx="9" fill="#2b86b2" stroke="#1f6e96" stroke-width="2" transform="rotate(-8 1988 728)"/>
<path d="M2022,706 L2058,700 Q2070,708 2090,704 Q2098,712 2090,722 L2032,738 Q2022,740 2022,730Z" fill="#2b86b2" stroke="#1f6e96" stroke-width="2"/>
<circle cx="2079" cy="687" r="17" fill="#c03a9a" stroke="#ffffff" stroke-width="3"/>
<ellipse cx="2706" cy="770" rx="335" ry="318" fill="url(#greenglow)"/>
<ellipse cx="2706" cy="770" rx="201" ry="185" fill="#a7d1b4" stroke="#61a071" stroke-width="3.5"/>
<ellipse cx="2689" cy="789" rx="119" ry="116" fill="#6db38b" stroke="#4f8d63" stroke-width="4"/>
<path d="M2222,791 L2400,791" stroke="#222222" stroke-width="6.5"/>
<path d="M2429,791 L2396,775 L2396,807Z" fill="#1e1e1e"/>
<path d="M2872,756 L2960,756 M2872,781 L2960,781" stroke="#22445f" stroke-width="5"/>
<rect x="2959" y="746" width="99" height="18" rx="5" fill="#2b7db3"/>
<rect x="2959" y="773" width="99" height="18" rx="5" fill="#2b7db3"/>
<rect x="3063" y="744" width="44" height="20" rx="5" fill="#7a3592"/>
<rect x="3115" y="744" width="27" height="20" rx="5" fill="#7a3592"/>
<rect x="3063" y="773" width="80" height="19" rx="5" fill="#7a3592"/>
<path d="M3142,781 L3186,781" stroke="#444" stroke-width="4"/>
<circle cx="3072" cy="768" r="11" fill="#d0223a" stroke="#ffffff" stroke-width="3"/>
<path d="M3182.0,778.0 C3182.0,769.0 3186.5,755.7 3193.0,747.0 C3199.5,738.3 3210.5,730.5 3221.0,726.0 C3231.5,721.5 3244.8,719.0 3256.0,720.0 C3267.2,721.0 3278.5,730.2 3288.0,732.0 C3297.5,733.8 3306.5,734.7 3313.0,731.0 C3319.5,727.3 3324.2,720.8 3327.0,710.0 C3329.8,699.2 3327.2,678.2 3330.0,666.0 C3332.8,653.8 3336.3,643.8 3344.0,637.0 C3351.7,630.2 3365.3,625.2 3376.0,625.0 C3386.7,624.8 3400.3,629.5 3408.0,636.0 C3415.7,642.5 3419.0,653.7 3422.0,664.0 C3425.0,674.3 3423.0,690.7 3426.0,698.0 C3429.0,705.3 3434.8,710.0 3440.0,708.0 C3445.2,706.0 3453.2,695.3 3457.0,686.0 C3460.8,676.7 3458.3,659.0 3463.0,652.0 C3467.7,645.0 3478.5,642.8 3485.0,644.0 C3491.5,645.2 3497.3,651.3 3502.0,659.0 C3506.7,666.7 3506.5,679.2 3513.0,690.0 C3519.5,700.8 3533.3,719.3 3541.0,724.0 C3548.7,728.7 3552.0,723.7 3559.0,718.0 C3566.0,712.3 3574.8,695.8 3583.0,690.0 C3591.2,684.2 3599.7,681.8 3608.0,683.0 C3616.3,684.2 3627.2,690.0 3633.0,697.0 C3638.8,704.0 3643.7,715.0 3643.0,725.0 C3642.3,735.0 3637.8,748.7 3629.0,757.0 C3620.2,765.3 3599.2,767.8 3590.0,775.0 C3580.8,782.2 3576.3,790.8 3574.0,800.0 C3571.7,809.2 3574.3,820.2 3576.0,830.0 C3577.7,839.8 3585.0,850.7 3584.0,859.0 C3583.0,867.3 3577.0,874.2 3570.0,880.0 C3563.0,885.8 3550.2,888.8 3542.0,894.0 C3533.8,899.2 3530.3,905.8 3521.0,911.0 C3511.7,916.2 3497.8,923.2 3486.0,925.0 C3474.2,926.8 3462.7,922.3 3450.0,922.0 C3437.3,921.7 3418.3,919.2 3410.0,923.0 C3401.7,926.8 3402.3,935.8 3400.0,945.0 C3397.7,954.2 3401.7,968.5 3396.0,978.0 C3390.3,987.5 3377.0,997.5 3366.0,1002.0 C3355.0,1006.5 3341.2,1008.0 3330.0,1005.0 C3318.8,1002.0 3306.0,993.8 3299.0,984.0 C3292.0,974.2 3287.5,957.7 3288.0,946.0 C3288.5,934.3 3293.8,924.0 3302.0,914.0 C3310.2,904.0 3328.8,895.5 3337.0,886.0 C3345.2,876.5 3350.3,866.5 3351.0,857.0 C3351.7,847.5 3346.8,835.3 3341.0,829.0 C3335.2,822.7 3324.8,820.2 3316.0,819.0 C3307.2,817.8 3296.8,822.7 3288.0,822.0 C3279.2,821.3 3274.2,815.5 3263.0,815.0 C3251.8,814.5 3232.7,821.3 3221.0,819.0 C3209.3,816.7 3199.5,807.8 3193.0,801.0 C3186.5,794.2 3182.0,787.0 3182.0,778.0Z" fill="#d48081" stroke="#8c4a52" stroke-width="5"/>
<path d="M3400.0,745.0 C3407.0,739.3 3423.3,732.2 3435.0,731.0 C3446.7,729.8 3458.2,734.2 3470.0,738.0 C3481.8,741.8 3497.2,746.7 3506.0,754.0 C3514.8,761.3 3521.3,772.7 3523.0,782.0 C3524.7,791.3 3524.5,802.5 3516.0,810.0 C3507.5,817.5 3487.0,821.8 3472.0,827.0 C3457.0,832.2 3437.8,838.0 3426.0,841.0 C3414.2,844.0 3407.8,847.7 3401.0,845.0 C3394.2,842.3 3387.5,833.3 3385.0,825.0 C3382.5,816.7 3384.7,805.0 3386.0,795.0 C3387.3,785.0 3390.7,773.3 3393.0,765.0 C3395.3,756.7 3393.0,750.7 3400.0,745.0Z" fill="#c35e66" stroke="#b3535c" stroke-width="2.5"/>
<ellipse cx="3348" cy="757" rx="26" ry="35" transform="rotate(10 3348 757)" fill="#c35e66" stroke="#b3535c" stroke-width="2.5"/>
<ellipse cx="3446" cy="862" rx="23" ry="17.6" fill="#c35e66" stroke="#b3535c" stroke-width="2.5"/>
<path d="M3242.0,616.0 C3244.3,606.5 3248.3,588.7 3256.0,577.0 C3263.7,565.3 3276.8,552.7 3288.0,546.0 C3299.2,539.3 3311.8,536.5 3323.0,537.0 C3334.2,537.5 3347.0,542.3 3355.0,549.0 C3363.0,555.7 3370.5,567.5 3371.0,577.0 C3371.5,586.5 3366.0,597.7 3358.0,606.0 C3350.0,614.3 3331.7,619.5 3323.0,627.0 C3314.3,634.5 3313.0,644.8 3306.0,651.0 C3299.0,657.2 3289.8,663.3 3281.0,664.0 C3272.2,664.7 3259.5,660.0 3253.0,655.0 C3246.5,650.0 3243.8,640.5 3242.0,634.0 C3240.2,627.5 3239.7,625.5 3242.0,616.0Z" fill="#d48081" stroke="#8c4a52" stroke-width="5"/>
<path d="M3418.0,581.0 C3419.2,571.7 3425.0,559.2 3432.0,553.0 C3439.0,546.8 3450.0,544.0 3460.0,544.0 C3470.0,544.0 3483.8,546.8 3492.0,553.0 C3500.2,559.2 3507.3,571.0 3509.0,581.0 C3510.7,591.0 3507.3,605.3 3502.0,613.0 C3496.7,620.7 3485.2,623.0 3477.0,627.0 C3468.8,631.0 3460.0,635.8 3453.0,637.0 C3446.0,638.2 3439.7,638.7 3435.0,634.0 C3430.3,629.3 3427.8,617.8 3425.0,609.0 C3422.2,600.2 3416.8,590.3 3418.0,581.0Z" fill="#d48081" stroke="#8c4a52" stroke-width="5"/>
<path d="M3154.0,697.0 C3154.7,686.0 3163.8,667.5 3172.0,659.0 C3180.2,650.5 3194.2,644.8 3203.0,646.0 C3211.8,647.2 3222.0,656.8 3225.0,666.0 C3228.0,675.2 3225.2,691.2 3221.0,701.0 C3216.8,710.8 3208.8,721.0 3200.0,725.0 C3191.2,729.0 3175.7,729.7 3168.0,725.0 C3160.3,720.3 3153.3,708.0 3154.0,697.0Z" fill="#d48081" stroke="#8c4a52" stroke-width="5"/>
<path d="M3151.0,833.0 C3152.2,828.3 3158.0,822.0 3165.0,822.0 C3172.0,822.0 3185.7,829.2 3193.0,833.0 C3200.3,836.8 3210.2,841.2 3209.0,845.0 C3207.8,848.8 3194.5,855.2 3186.0,856.0 C3177.5,856.8 3163.8,853.8 3158.0,850.0 C3152.2,846.2 3149.8,837.7 3151.0,833.0Z" fill="#d48081" stroke="#8c4a52" stroke-width="5"/>
<path d="M3200.0,896.0 C3201.8,885.0 3211.7,873.2 3221.0,865.0 C3230.3,856.8 3243.7,851.5 3256.0,847.0 C3268.3,842.5 3285.8,836.8 3295.0,838.0 C3304.2,839.2 3310.3,844.8 3311.0,854.0 C3311.7,863.2 3305.2,880.2 3299.0,893.0 C3292.8,905.8 3283.5,921.7 3274.0,931.0 C3264.5,940.3 3252.7,949.0 3242.0,949.0 C3231.3,949.0 3217.0,939.8 3210.0,931.0 C3203.0,922.2 3198.2,907.0 3200.0,896.0Z" fill="#d48081" stroke="#8c4a52" stroke-width="5"/>
<ellipse cx="3562" cy="644.5" rx="28" ry="23" transform="rotate(0 3562 644.5)" fill="#d48081" stroke="#8c4a52" stroke-width="5"/>
<ellipse cx="3639.6" cy="678" rx="12.3" ry="10" transform="rotate(0 3639.6 678)" fill="#d48081" stroke="#8c4a52" stroke-width="5"/>
<ellipse cx="3697.7" cy="702.6" rx="30" ry="17.6" transform="rotate(25 3697.7 702.6)" fill="#d48081" stroke="#8c4a52" stroke-width="5"/>
<ellipse cx="3618" cy="812" rx="26" ry="33" transform="rotate(20 3618 812)" fill="#d48081" stroke="#8c4a52" stroke-width="5"/>
<ellipse cx="3565" cy="938" rx="37" ry="22" transform="rotate(-25 3565 938)" fill="#d48081" stroke="#8c4a52" stroke-width="5"/>
<ellipse cx="3440" cy="948.5" rx="17" ry="13" transform="rotate(0 3440 948.5)" fill="#d48081" stroke="#8c4a52" stroke-width="5"/>
<ellipse cx="3454" cy="1003" rx="60" ry="31" transform="rotate(-20 3454 1003)" fill="#d48081" stroke="#8c4a52" stroke-width="5"/>
<circle cx="3330" cy="576" r="6" fill="#b24b56"/>
<circle cx="3291.5" cy="636" r="5" fill="#b24b56"/>
<circle cx="3182" cy="704" r="7" fill="#b24b56"/>
<circle cx="3196" cy="681.5" r="4" fill="#b24b56"/>
<circle cx="3235" cy="775" r="6" fill="#b24b56"/>
<circle cx="3298.6" cy="773" r="5" fill="#b24b56"/>
<circle cx="3358.5" cy="653" r="6" fill="#b24b56"/>
<circle cx="3383" cy="699" r="5" fill="#b24b56"/>
<circle cx="3481" cy="722" r="6" fill="#b24b56"/>
<circle cx="3564" cy="743" r="5" fill="#b24b56"/>
<circle cx="3613" cy="711" r="5" fill="#b24b56"/>
<circle cx="3546" cy="815" r="6" fill="#b24b56"/>
<circle cx="3503" cy="883" r="7" fill="#b24b56"/>
<circle cx="3335.6" cy="952.7" r="6" fill="#b24b56"/>
<circle cx="3381" cy="900" r="5" fill="#b24b56"/>
<circle cx="3470.5" cy="595" r="6" fill="#b24b56"/>
<circle cx="3240" cy="894.5" r="6" fill="#b24b56"/>
<circle cx="3619.6" cy="806" r="7" fill="#b24b56"/>
<circle cx="3570" cy="938" r="5" fill="#b24b56"/>
<circle cx="3482" cy="994" r="6" fill="#b24b56"/>
<path d="M2827,523 Q3048,380 3262,512" fill="none" stroke="url(#pfnarc)" stroke-width="6" stroke-linecap="round"/>
<path d="M3294,530 L3250,526 L3273,494Z" fill="#5e141b"/>
<path d="M2827,1016 Q3048,1160 3262,1028" fill="none" stroke="url(#ifnarc)" stroke-width="6" stroke-linecap="round"/>
<path d="M3294,1008 L3250,1018 L3271,1044Z" fill="#17546c"/>
<circle cx="2955" cy="410" r="10" fill="#7a5aa0"/>
<circle cx="3030" cy="413" r="8" fill="#c4b8d8"/>
<circle cx="3082" cy="388" r="7" fill="#d4aa4a"/>
<circle cx="3149" cy="410" r="10" fill="#7a5aa0"/>
<circle cx="3235" cy="406" r="7" fill="#8a80a8"/>
<circle cx="2833" cy="487" r="10" fill="#8a5aaa"/>
<circle cx="2894" cy="465" r="8" fill="#e6cfa0"/>
<circle cx="2959" cy="483" r="7" fill="#b4b0c0"/>
<circle cx="3029" cy="476" r="10" fill="#de8e2a"/>
<circle cx="3123" cy="483" r="10" fill="#c9b8dc"/>
<circle cx="3215" cy="446" r="8" fill="#c4b8d8"/>
<circle cx="3289" cy="467" r="10" fill="#e2a83a"/>
<circle cx="2895" cy="513" r="8" fill="#d4a444"/>
<circle cx="2794" cy="541" r="8" fill="#d2a850"/>
<circle cx="3172" cy="522" r="9" fill="#c8b6dc"/>
<circle cx="3214" cy="515" r="9" fill="#e8d6a8"/>
<circle cx="2807" cy="987" r="8" fill="#5e9a72"/>
<circle cx="2869" cy="1008" r="7" fill="#9cb8a8"/>
<circle cx="2929" cy="1026" r="8" fill="#5e9a72"/>
<circle cx="2846" cy="1052" r="10" fill="#2a90c8"/>
<circle cx="2972" cy="1057" r="9" fill="#a8d0e4"/>
<circle cx="3057" cy="1064" r="10" fill="#1a94c8"/>
<circle cx="3149" cy="1056" r="10" fill="#a8c8a8"/>
<circle cx="3196" cy="995" r="9" fill="#a8c8b0"/>
<circle cx="2913" cy="1087" r="10" fill="#2a90c8"/>
<circle cx="3216" cy="1090" r="7" fill="#b8ccc8"/>
<circle cx="3273" cy="1107" r="10" fill="#8cc4e8"/>
<circle cx="2970" cy="1125" r="10" fill="#5e9a72"/>
<circle cx="3035" cy="1116" r="8" fill="#5a90b0"/>
<circle cx="3132" cy="1120" r="11" fill="#1a90c8"/>
<circle cx="3079" cy="1145" r="8" fill="#5e9a72"/>
<text transform="translate(140.00,712.5) scale(0.9663,1.0)" font-size="43" font-weight="bold" fill="#cc4250">Injection site</text>
<text transform="translate(815.50,212.7) scale(1.0634,1.0)" font-size="43" font-weight="bold" fill="#1e1e1e">mRNA-LNP vaccines</text>
<text transform="translate(1509.50,570.8) scale(0.9731,1.0)" font-size="43" stroke="#34364f" stroke-width="0.9" fill="#34364f">mRNA</text>
<text transform="translate(1013.40,864.6) scale(0.9848,1.0)" font-size="45" stroke="#505050" stroke-width="0.9" fill="#505050">Translation</text>
<text transform="translate(1002.50,906.6) scale(0.9796,1.0)" font-size="45" stroke="#505050" stroke-width="0.9" fill="#505050">by ribosome</text>
<text transform="translate(1794.80,1062.2) scale(0.9597,1.0)" font-size="45" stroke="#505050" stroke-width="0.9" fill="#505050">antigen</text>
<text transform="translate(1794.80,1104.5) scale(0.9726,1.0)" font-size="45" stroke="#505050" stroke-width="0.9" fill="#505050">peptide</text>
<text transform="translate(1586.80,1317.5) scale(0.9000,1.0)" font-size="54" font-weight="bold" fill="#4b3b8c">APC</text>
<text transform="translate(2239.50,738.5) scale(0.9414,1.0)" font-size="49" font-weight="bold" fill="#222222">activate</text>
<text transform="translate(3010.00,541) scale(0.9500,1.0)" font-size="52" stroke="#d08a40" stroke-width="0.9" fill="#d08a40">PFN</text>
<text transform="translate(2987.00,590) scale(0.9954,1.0)" font-size="51" stroke="#9080bb" stroke-width="0.9" fill="#9080bb">GzmB</text>
<text transform="translate(3006.50,987.4) scale(0.9518,1.0)" font-size="54" stroke="#2a84b8" stroke-width="0.9" fill="#2a84b8">IFNγ</text>
<text transform="translate(2998.70,1040.5) scale(0.9317,1.0)" font-size="54" stroke="#6aa882" stroke-width="0.9" fill="#6aa882">TNFα</text>
<text transform="translate(2661.00,1156) scale(1.0168,1.0)" font-size="50" font-weight="bold" fill="#282828">T cell</text>
<text transform="translate(2612.00,1207) scale(1.0521,1.0)" font-size="50" font-weight="bold" fill="#282828">(effector)</text>
<text transform="translate(3376.50,1152.5) scale(0.9821,1.0)" font-size="51" font-weight="bold" fill="#9e4048">Cancer</text>
<text transform="translate(3344.00,1204.4) scale(0.9947,1.0)" font-size="51" font-weight="bold" fill="#9e4048">cell death</text>
</svg></body></html>
